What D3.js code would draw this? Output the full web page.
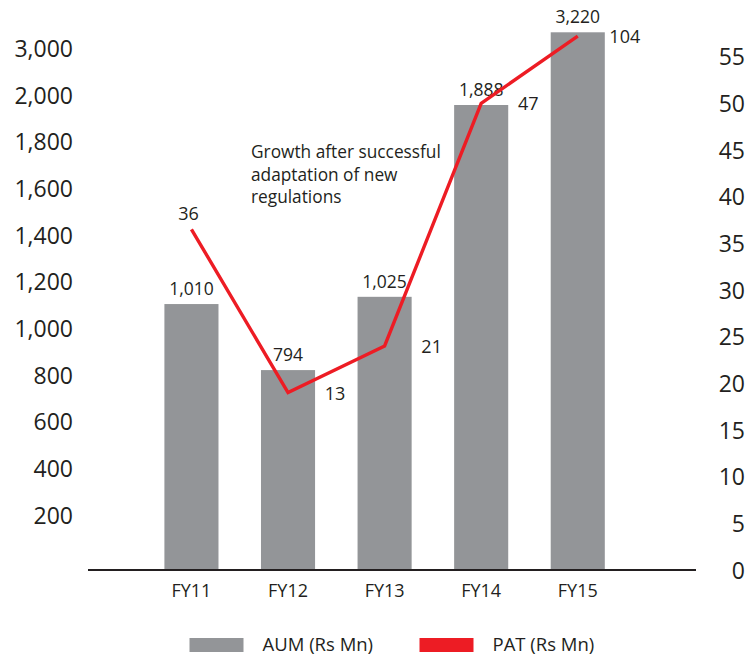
<!DOCTYPE html>
<html>
<head>
<meta charset="utf-8">
<script src="https://d3js.org/d3.v7.min.js"></script>
<style>
  body { margin: 0; background: #fff; }
  svg { display: block; font-family: 'Open Sans', sans-serif; }
</style>
</head>
<body>
<div id="chart"></div>
<script>
'use strict';

// categories
var years = ['FY11', 'FY12', 'FY13', 'FY14', 'FY15'];

// AUM (Rs Mn): the printed figures, and the bar heights as read against the left axis
var aumReported = [1010, 794, 1025, 1888, 3220];
var aumBarLevel = [1104, 821, 1135, 1957, 3343];

// PAT (Rs Mn): the printed figures, and the line points as read against the right axis
var patReported = [36, 13, 21, 47, 104];
var patLineLevel = [36.5, 19, 24, 50, 57.2];

// axis tick labels
var leftTicks = [0, 200, 400, 600, 800, 1000, 1200, 1400, 1600, 1800, 2000, 3000];
var rightTicks = [0, 5, 10, 15, 20, 25, 30, 35, 40, 45, 50, 55];

var legendItems = ['AUM (Rs Mn)', 'PAT (Rs Mn)'];
var note = ['Growth after successful', 'adaptation of new', 'regulations'];

(function () {
    var width = 748,
        height = 661,
        baseY = 570,
        firstTickY = 515,
        tickStep = 46.67,
        ink = '#231f20',
        grey = '#939598',
        red = '#ed1c24',
        fmt = d3.format(',');

    var svg = d3.select('#chart').append('svg')
        .attr('width', width)
        .attr('height', height);

    var x = d3.scaleBand().domain(years).range([164.4, 604.8]).paddingInner(0.44).paddingOuter(0);

    // left axis is not evenly spaced in value: 2,000 -> 3,000 takes one step
    var yL = d3.scaleLinear()
        .domain(leftTicks)
        .range(leftTicks.map(function (d, i) {
            return i === 0 ? baseY : firstTickY - (i - 1) * tickStep;
        }));

    var yR = d3.scaleLinear().domain([0, 55]).range([baseY, baseY - 11 * tickStep]);

    // bars
    svg.selectAll('.bar').data(years).enter().append('rect')
        .attr('class', 'bar')
        .attr('x', function (d) { return x(d); })
        .attr('width', x.bandwidth())
        .attr('y', function (d, i) { return yL(aumBarLevel[i]); })
        .attr('height', function (d, i) { return yL(0) - yL(aumBarLevel[i]); })
        .attr('fill', grey);

    // baseline
    svg.append('line')
        .attr('x1', 88).attr('x2', 696)
        .attr('y1', baseY).attr('y2', baseY)
        .attr('stroke', ink).attr('stroke-width', 2.2);

    // left axis labels
    var gL = svg.append('g').attr('transform', 'translate(73,0)')
        .call(d3.axisLeft(yL).tickValues(leftTicks.slice(1)).tickFormat(fmt).tickSize(0).tickPadding(0));
    gL.select('.domain').remove();
    gL.selectAll('text').attr('font-size', 23).attr('font-family', 'Open Sans').attr('fill', ink).attr('dy', '0.35em');

    // right axis labels
    var gR = svg.append('g').attr('transform', 'translate(745,0)')
        .call(d3.axisLeft(yR).tickValues(rightTicks).tickSize(0).tickPadding(0));
    gR.select('.domain').remove();
    gR.selectAll('text').attr('font-size', 23).attr('font-family', 'Open Sans').attr('fill', ink).attr('dy', '0.35em');

    // category labels
    var gX = svg.append('g').attr('transform', 'translate(0,' + baseY + ')')
        .call(d3.axisBottom(x).tickSize(0).tickPadding(14));
    gX.select('.domain').remove();
    gX.selectAll('text').attr('font-size', 18).attr('font-family', 'Open Sans').attr('fill', ink);

    // bar value labels
    svg.selectAll('.aum-label').data(years).enter().append('text')
        .attr('class', 'aum-label')
        .attr('x', function (d) { return x(d) + x.bandwidth() / 2; })
        .attr('y', function (d, i) { return yL(aumBarLevel[i]) - 9; })
        .attr('text-anchor', 'middle')
        .attr('font-size', 17.5)
        .attr('fill', ink)
        .text(function (d, i) { return fmt(aumReported[i]); });

    // PAT line
    var line = d3.line()
        .x(function (d, i) { return x(years[i]) + x.bandwidth() / 2; })
        .y(function (d) { return yR(d); });

    svg.append('path')
        .datum(patLineLevel)
        .attr('d', line)
        .attr('fill', 'none')
        .attr('stroke', red)
        .attr('stroke-width', 3.4)
        .attr('stroke-linejoin', 'miter');

    // PAT labels: first above its point, the rest beside the bar
    svg.selectAll('.pat-label').data(years).enter().append('text')
        .attr('class', 'pat-label')
        .attr('x', function (d, i) {
            return i === 0 ? x(d) + x.bandwidth() / 2 - 3 : x(d) + x.bandwidth() + 20;
        })
        .attr('y', function (d, i) {
            return i === 0 ? yR(patLineLevel[i]) - 9 : yR(patLineLevel[i]) + 7;
        })
        .attr('text-anchor', 'middle')
        .attr('font-size', 18)
        .attr('fill', ink)
        .text(function (d, i) { return patReported[i]; });

    // annotation
    svg.append('text')
        .attr('x', 251).attr('y', 158)
        .attr('font-size', 17.3)
        .attr('fill', ink)
        .selectAll('tspan').data(note).enter().append('tspan')
        .attr('x', 251)
        .attr('dy', function (d, i) { return i === 0 ? 0 : 22.5; })
        .text(function (d) { return d; });

    // legend
    var legend = svg.selectAll('.legend').data(legendItems).enter().append('g')
        .attr('class', 'legend')
        .attr('transform', function (d, i) { return 'translate(' + (189.5 + i * 230) + ',638)'; });

    legend.append('rect')
        .attr('width', 54).attr('height', 14)
        .attr('fill', function (d, i) { return i === 0 ? grey : red; });

    legend.append('text')
        .attr('x', 73).attr('y', 7)
        .attr('dy', '0.35em')
        .attr('font-size', 18.5)
        .attr('fill', ink)
        .text(function (d) { return d; });
})();
</script>
</body>
</html>
